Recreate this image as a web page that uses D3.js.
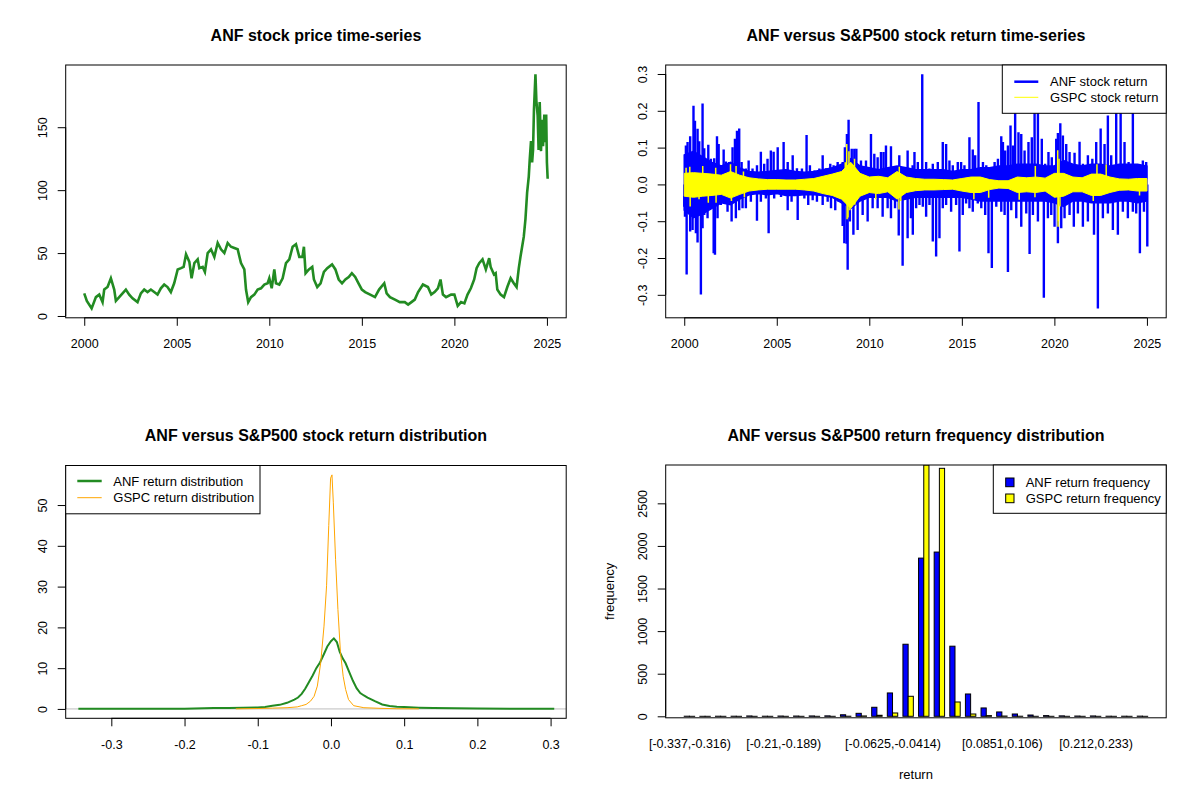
<!DOCTYPE html>
<html>
<head>
<meta charset="utf-8">
<script src="https://cdn.jsdelivr.net/npm/d3@7"></script>
<style>
  body { margin: 0; background: #fff; }
  text { font-family: "Liberation Sans", Arial, sans-serif; fill: #000; }
</style>
</head>
<body>
<script>
// ---- data ----
var priceYears = [2000.0,2000.14,2000.4,2000.63,2000.81,2000.99,2001.08,2001.26,2001.44,2001.62,2001.71,2001.89,2002.07,2002.25,2002.43,2002.61,2002.88,2003.06,2003.24,2003.42,2003.6,2003.78,2003.96,2004.14,2004.32,2004.5,2004.68,2004.86,2005.05,2005.23,2005.37,2005.5,2005.68,2005.8,2005.95,2006.13,2006.22,2006.4,2006.52,2006.67,2006.85,2007.03,2007.21,2007.39,2007.57,2007.75,2007.93,2008.11,2008.29,2008.47,2008.65,2008.74,2008.86,2009.01,2009.19,2009.37,2009.55,2009.73,2009.91,2010.0,2010.13,2010.27,2010.36,2010.54,2010.72,2010.9,2011.08,2011.26,2011.44,2011.62,2011.79,2011.87,2011.96,2012.14,2012.32,2012.41,2012.59,2012.77,2012.95,2013.13,2013.39,2013.57,2013.75,2013.93,2014.11,2014.29,2014.46,2014.64,2014.82,2015.0,2015.18,2015.45,2015.71,2015.93,2016.21,2016.34,2016.52,2016.79,2017.05,2017.32,2017.5,2017.68,2017.86,2018.04,2018.3,2018.57,2018.75,2018.93,2019.11,2019.25,2019.38,2019.55,2019.82,2020.0,2020.18,2020.36,2020.54,2020.71,2020.89,2021.07,2021.2,2021.34,2021.52,2021.7,2021.88,2021.96,2022.14,2022.23,2022.32,2022.5,2022.68,2022.86,2023.04,2023.21,2023.36,2023.48,2023.57,2023.66,2023.75,2023.84,2023.93,2024.02,2024.07,2024.14,2024.2,2024.25,2024.3,2024.38,2024.43,2024.5,2024.55,2024.61,2024.68,2024.73,2024.79,2024.86,2024.91,2024.96,2025.0,2025.04];
var prices = [18,12,6,15,17,11,21,23,30,21,12,15,18,21,17,14,11,18,21,19,21,19,17,22,25,23,19,26,37,38,39,49,43,30,42,45,38,39,35,50,53,47,58,53,50,58,55,54,53,42,37,21,11,15,17,21,22,25,26,30,22,37,26,25,30,42,45,55,57,47,47,55,34,37,39,29,23,26,35,38,41,37,29,26,29,31,34,31,26,21,19,17,15,21,26,18,15,13,11,11,9,11,13,19,25,23,17,19,22,29,17,15,17,17,8,11,10,17,22,29,38,42,45,37,46,39,33,34,21,17,15,23,30,26,23,38,47,55,63,77,98,111,124,139,122,132,164,192,171,159,132,170,131,156,135,160,138,160,122,109];

// half-yearly dense core of the daily return bands
var bandYears = [2000,2000.5,2001,2001.5,2002,2002.5,2003,2003.5,2004,2004.5,2005,2005.5,2006,2006.5,2007,2007.5,2008,2008.5,2009,2009.5,2010,2010.5,2011,2011.5,2012,2012.5,2013,2013.5,2014,2014.5,2015,2015.5,2016,2016.5,2017,2017.5,2018,2018.5,2019,2019.5,2020,2020.5,2021,2021.5,2022,2022.5,2023,2023.5,2024,2024.5,2025];
var anfBandHi = [0.080,0.090,0.075,0.060,0.050,0.060,0.045,0.035,0.033,0.035,0.038,0.040,0.035,0.033,0.035,0.040,0.045,0.055,0.070,0.050,0.045,0.040,0.045,0.050,0.045,0.040,0.040,0.040,0.040,0.035,0.040,0.040,0.045,0.045,0.050,0.050,0.055,0.055,0.055,0.050,0.050,0.065,0.055,0.050,0.055,0.055,0.050,0.055,0.055,0.055,0.050];
var anfBandLo = [-0.070,-0.090,-0.080,-0.065,-0.050,-0.055,-0.040,-0.028,-0.025,-0.028,-0.025,-0.030,-0.030,-0.028,-0.028,-0.030,-0.035,-0.050,-0.065,-0.045,-0.035,-0.035,-0.035,-0.045,-0.040,-0.035,-0.035,-0.035,-0.035,-0.035,-0.035,-0.040,-0.045,-0.045,-0.045,-0.045,-0.045,-0.045,-0.045,-0.045,-0.050,-0.060,-0.045,-0.045,-0.050,-0.050,-0.050,-0.045,-0.045,-0.050,-0.045];
var gspcBandHi = [0.030,0.032,0.030,0.028,0.025,0.035,0.025,0.018,0.015,0.013,0.013,0.012,0.012,0.014,0.016,0.022,0.028,0.035,0.060,0.030,0.020,0.022,0.018,0.035,0.020,0.016,0.014,0.014,0.013,0.012,0.016,0.020,0.020,0.013,0.010,0.010,0.020,0.018,0.020,0.017,0.030,0.030,0.020,0.018,0.028,0.028,0.020,0.015,0.014,0.016,0.016];
var gspcBandLo = [-0.032,-0.035,-0.032,-0.030,-0.027,-0.037,-0.027,-0.018,-0.015,-0.013,-0.013,-0.013,-0.013,-0.015,-0.018,-0.025,-0.030,-0.040,-0.065,-0.032,-0.022,-0.025,-0.020,-0.040,-0.022,-0.017,-0.015,-0.015,-0.014,-0.013,-0.018,-0.022,-0.022,-0.014,-0.010,-0.011,-0.022,-0.020,-0.022,-0.018,-0.035,-0.032,-0.020,-0.020,-0.030,-0.030,-0.022,-0.016,-0.015,-0.018,-0.018];

// single-day return spikes [year, return]
var anfSpikes = [
  [2000.09,.106],[2000.18,.115],[2000.32,.131],[2000.5,.214],[2000.58,.173],[2000.72,.151],[2000.81,.117],[2000.99,.22],[2001.08,.098],[2001.3,.108],[2001.44,.07],[2001.62,.071],[2001.77,.131],[2001.86,.11],[2002.13,.095],[2002.25,.062],[2002.43,.061],[2002.61,.101],[2002.74,.124],[2002.85,.146],[2002.97,.152],[2003.1,.061],[2003.33,.043],[2003.48,.065],[2003.69,.043],[2003.93,.052],[2004.14,.089],[2004.32,.056],[2004.5,.07],[2004.68,.092],[2004.83,.089],[2005.05,.101],[2005.37,.115],[2005.59,.061],[2005.86,.079],[2006.09,.044],[2006.36,.043],[2006.61,.134],[2006.79,.052],[2007.03,.038],[2007.3,.043],[2007.48,.079],[2007.66,.044],[2007.89,.056],[2008.07,.052],[2008.29,.061],[2008.56,.061],[2008.68,.101],[2008.79,.137],[2008.88,.176],[2009.05,.097],[2009.19,.097],[2009.3,.097],[2009.55,.065],[2009.82,.065],[2010.09,.137],[2010.27,.083],[2010.45,.074],[2010.63,.088],[2010.77,.088],[2010.9,.106],[2011.17,.104],[2011.62,.079],[2012.07,.092],[2012.34,.052],
  [2000.0,-.061],[2000.04,-.088],[2000.13,-.245],[2000.32,-.128],[2000.45,-.124],[2000.63,-.133],[2000.72,-.158],[2000.9,-.299],[2000.99,-.119],[2001.08,-.083],[2001.26,-.092],[2001.59,-.187],[2001.66,-.191],[2001.8,-.092],[2001.98,-.056],[2002.16,-.047],[2002.34,-.074],[2002.56,-.101],[2002.79,-.092],[2002.97,-.07],[2003.15,-.065],[2003.33,-.065],[2003.6,-.047],[2003.93,-.099],[2004.14,-.047],[2004.41,-.038],[2004.56,-.133],[2004.86,-.038],[2005.23,-.034],[2005.59,-.07],[2005.8,-.047],[2006.13,-.097],[2006.49,-.038],[2006.7,-.056],[2006.94,-.043],[2007.17,-.047],[2007.48,-.056],[2007.75,-.047],[2007.93,-.065],[2008.16,-.07],[2008.34,-.047],[2008.56,-.113],[2008.65,-.16],[2008.77,-.161],[2008.83,-.232],[2008.95,-.101],[2009.14,-.137],[2009.37,-.124],[2009.64,-.083],[2009.91,-.101],[2010.18,-.065],[2010.45,-.065],[2010.72,-.088],[2010.99,-.065],[2011.17,-.092],[2011.39,-.065],[2011.59,-.139],[2011.8,-.221],[2012.07,-.146],[2012.25,-.092],
  [2012.44,.088],[2012.62,.061],[2012.86,.299],[2013.07,.061],[2013.25,.043],[2013.43,.056],[2013.7,.061],[2013.97,.115],[2014.15,.11],[2014.33,.065],[2014.51,.052],[2014.78,.061],[2014.96,.061],[2015.14,.052],[2015.41,.128],[2015.59,.095],[2015.72,.079],[2015.9,.224],[2016.14,.061],[2016.32,.052],[2016.55,.047],[2016.77,.061],[2016.95,.07],[2017.13,.131],[2017.22,.115],[2017.34,.092],[2017.49,.106],[2017.63,.16],[2017.76,.106],[2017.88,.25],[2018.06,.142],[2018.21,.137],[2018.39,.092],[2018.6,.115],[2018.78,.128],[2018.93,.2],[2019.11,.24],[2019.32,.124],[2019.5,.056],[2019.68,.088],[2019.86,.074],[2020.1,.124],[2020.19,.14],[2020.32,.166],[2020.46,.133],[2020.64,.11],[2020.82,.088],[2021.09,.086],[2021.36,.116],[2021.54,.056],[2021.81,.079],[2022.05,.07],[2022.26,.115],[2022.5,.152],[2022.71,.11],[2022.89,.187],[2023.07,.079],[2023.34,.23],[2023.58,.2],[2023.79,.115],[2024.01,.061],[2024.24,.22],[2024.51,.052],[2024.78,.065],[2024.96,.061],
  [2012.35,-.137],[2012.53,-.065],[2012.71,-.056],[2012.89,-.061],[2013.07,-.088],[2013.25,-.056],[2013.43,-.155],[2013.61,-.196],[2013.79,-.146],[2013.97,-.065],[2014.15,-.056],[2014.42,-.074],[2014.69,-.056],[2014.87,-.182],[2015.05,-.083],[2015.23,-.052],[2015.41,-.065],[2015.59,-.074],[2015.86,-.052],[2016.05,-.065],[2016.26,-.083],[2016.44,-.187],[2016.62,-.227],[2016.86,-.061],[2017.13,-.074],[2017.31,-.083],[2017.49,-.238],[2017.67,-.07],[2017.94,-.092],[2018.21,-.115],[2018.48,-.079],[2018.66,-.189],[2018.84,-.083],[2019.11,-.101],[2019.43,-.308],[2019.65,-.092],[2019.83,-.083],[2020.01,-.115],[2020.19,-.16],[2020.37,-.119],[2020.55,-.092],[2020.82,-.083],[2021.05,-.115],[2021.27,-.079],[2021.54,-.115],[2021.81,-.101],[2022.14,-.137],[2022.35,-.337],[2022.62,-.092],[2022.89,-.079],[2023.16,-.124],[2023.43,-.137],[2023.7,-.074],[2023.97,-.092],[2024.24,-.074],[2024.42,-.079],[2024.62,-.187],[2024.84,-.074],[2025.02,-.169]
];
var gspcSpikes = [[2000.1,.045],[2000.3,.048],[2000.32,-.06],[2000.8,-.04],[2001.0,.05],[2001.3,-.05],[2001.7,.045],[2001.72,-.05],[2002.5,.055],[2002.55,-.045],[2002.8,.05],[2003.2,.035],[2003.25,-.035],[2008.7,.06],[2008.78,.11],[2008.8,-.095],[2008.85,-.09],[2008.9,.09],[2008.95,-.07],[2009.2,.07],[2009.22,-.055],[2010.35,-.04],[2011.6,-.068],[2011.62,.048],[2011.7,-.045],[2015.65,-.04],[2016.45,-.036],[2018.1,-.042],[2018.95,-.035],[2018.97,.05],[2020.18,.093],[2020.2,-.115],[2020.22,-.1],[2020.25,.07],[2020.3,-.06],[2022.1,-.045],[2022.3,.055],[2022.8,.054],[2024.6,-.03]];

var anfDensX = [-0.345,-0.30,-0.25,-0.20,-0.16,-0.14,-0.12,-0.10,-0.09,-0.08,-0.07,-0.06,-0.05,-0.045,-0.04,-0.035,-0.03,-0.025,-0.02,-0.015,-0.01,-0.005,0,0.004,0.008,0.012,0.016,0.02,0.025,0.03,0.035,0.04,0.045,0.05,0.06,0.07,0.08,0.09,0.10,0.12,0.14,0.17,0.20,0.25,0.305];
var anfDensY = [0.02,0.03,0.04,0.06,0.25,0.25,0.3,0.35,0.5,0.8,1.0,1.5,2.3,2.8,3.7,5.0,6.6,8.2,10.0,11.4,13.3,15.3,16.6,17.3,16.4,14.0,12.4,11.2,9.0,6.9,5.1,3.9,3.3,2.8,1.9,1.1,0.7,0.55,0.45,0.3,0.2,0.15,0.08,0.05,0.02];
var gspcDensX = [-0.13,-0.10,-0.08,-0.06,-0.046,-0.04,-0.034,-0.028,-0.023,-0.0186,-0.014,-0.0095,-0.006,-0.003,-0.0005,0.0014,0.0032,0.0063,0.0095,0.013,0.0167,0.02,0.024,0.031,0.045,0.067,0.09,0.12];
var gspcDensY = [0.02,0.1,0.2,0.3,0.5,0.8,1.1,1.9,3.1,5.6,11.3,20.3,30.2,45,56.6,57.4,50.7,36.7,24.4,13.8,8.0,4.8,2.3,0.8,0.3,0.15,0.05,0.02];
var returnRange = [-0.337, 0.296];

var binLabels = ["[-0.337,-0.316)","[-0.316,-0.294)","[-0.294,-0.273)","[-0.273,-0.252)","[-0.252,-0.231)","[-0.231,-0.21)","[-0.21,-0.189)","[-0.189,-0.168)","[-0.168,-0.147)","[-0.147,-0.126)","[-0.126,-0.105)","[-0.105,-0.0836)","[-0.0836,-0.0625)","[-0.0625,-0.0414)","[-0.0414,-0.0203)","[-0.0203,0.000801)","[0.000801,0.0219)","[0.0219,0.043)","[0.043,0.064)","[0.064,0.0851)","[0.0851,0.106)","[0.106,0.127)","[0.127,0.148)","[0.148,0.169)","[0.169,0.19)","[0.19,0.212)","[0.212,0.233)","[0.233,0.254)","[0.254,0.275)","[0.275,0.296]"];
var shownBinLabels = [0, 6, 13, 20, 26];
var anfFreq = [1,0,1,1,4,1,3,3,4,5,18,35,106,274,846,1857,1928,823,262,98,51,27,15,8,5,3,4,1,1,2];
var gspcFreq = [0,0,0,0,0,0,0,0,0,0,1,4,12,39,235,2950,2911,168,27,8,3,1,0,0,0,0,0,0,0,0];

var yearTicks = [2000, 2005, 2010, 2015, 2020, 2025];

// ---- layout ----
var pw = 500.5, ph = 252.8;
var svg = d3.select("body").append("svg").attr("width", 1200).attr("height", 800);
svg.append("rect").attr("width", 1200).attr("height", 800).attr("fill", "#fff");

function pad4(e) { var r = e[1] - e[0]; return [e[0] - 0.04 * r, e[1] + 0.04 * r]; }
function fmt1(d) { return d.toFixed(1); }

function panel(id, x0, y0, title) {
  var g = svg.append("g").attr("transform", "translate(" + x0 + "," + y0 + ")");
  g.append("clipPath").attr("id", id).append("rect").attr("width", pw).attr("height", ph);
  var plot = g.append("g").attr("clip-path", "url(#" + id + ")");
  g.append("text").attr("x", pw / 2).attr("y", -24.5).attr("text-anchor", "middle")
    .attr("font-size", "16px").attr("font-weight", "bold").text(title);
  return { g: g, plot: plot };
}
function box(g) {
  g.append("rect").attr("width", pw).attr("height", ph).attr("fill", "none").attr("stroke", "#000");
}
function bottomAxis(g, scale, ticks, f) {
  var a = g.append("g").attr("transform", "translate(0," + ph + ")")
    .call(d3.axisBottom(scale).tickValues(ticks).tickFormat(f).tickSize(8).tickSizeOuter(0));
  a.attr("font-size", "12.5px").attr("font-family", null);
  a.select(".domain").attr("d", "M" + scale(ticks[0]) + ",0H" + scale(ticks[ticks.length - 1]));
  a.selectAll(".tick text").attr("y", 30.3).attr("dy", null);
}
function leftAxis(g, scale, ticks, f) {
  var a = g.append("g")
    .call(d3.axisLeft(scale).tickValues(ticks).tickFormat(f).tickSize(8).tickSizeOuter(0));
  a.attr("font-size", "12.5px").attr("font-family", null);
  a.select(".domain").attr("d", "M0," + scale(ticks[0]) + "V" + scale(ticks[ticks.length - 1]));
  a.selectAll(".tick text").attr("x", 0).attr("y", -19).attr("dy", null)
    .attr("text-anchor", "middle").attr("transform", "rotate(-90)");
}
function legendBox(g, x, w) {
  g.append("rect").attr("x", x).attr("y", 0).attr("width", w).attr("height", 48.3)
    .attr("fill", "#fff").attr("stroke", "#000");
}
function legendText(g, x, y, s) {
  g.append("text").attr("x", x).attr("y", y + 4.6).attr("font-size", "13px").text(s);
}

// ---- top-left: price ----
var p1 = panel("c1", 65.7, 65, "ANF stock price time-series");
var xTime = d3.scaleLinear().domain(pad4(d3.extent(priceYears))).range([0, pw]);
var yPrice = d3.scaleLinear().domain(pad4(d3.extent(prices))).range([ph, 0]);
p1.plot.append("path")
  .datum(priceYears.map(function (t, i) { return [t, prices[i]]; }))
  .attr("fill", "none").attr("stroke", "#228B22").attr("stroke-width", 2.6)
  .attr("stroke-linejoin", "miter")
  .attr("d", d3.line().x(function (d) { return xTime(d[0]); }).y(function (d) { return yPrice(d[1]); }));
box(p1.g);
bottomAxis(p1.g, xTime, yearTicks, d3.format("d"));
leftAxis(p1.g, yPrice, [0, 50, 100, 150], d3.format("d"));

// ---- top-right: returns ----
var p2 = panel("c2", 665.7, 65, "ANF versus S&P500 stock return time-series");
var yRet = d3.scaleLinear().domain(pad4(d3.extent(anfSpikes, function (d) { return d[1]; }))).range([ph, 0]);
function band(hi, lo) {
  return bandYears.map(function (t, i) { return { t: t, hi: hi[i], lo: lo[i] }; });
}
var bandArea = d3.area().x(function (d) { return xTime(d.t); })
  .y0(function (d) { return yRet(d.lo); }).y1(function (d) { return yRet(d.hi); });
function spikes(g, data, color, w) {
  g.selectAll(null).data(data).enter().append("line")
    .attr("x1", function (d) { return xTime(d[0]); }).attr("x2", function (d) { return xTime(d[0]); })
    .attr("y1", yRet(0)).attr("y2", function (d) { return yRet(d[1]); })
    .attr("stroke", color).attr("stroke-width", w);
}
p2.plot.append("path").datum(band(anfBandHi, anfBandLo)).attr("fill", "#0000FF")
  .attr("stroke", "#0000FF").attr("stroke-width", 1.5).attr("d", bandArea);
spikes(p2.plot, anfSpikes, "#0000FF", 2.4);
p2.plot.append("path").datum(band(gspcBandHi, gspcBandLo)).attr("fill", "#FFFF00")
  .attr("stroke", "#FFFF00").attr("stroke-width", 1).attr("d", bandArea);
spikes(p2.plot, gspcSpikes, "#FFFF00", 1.5);
box(p2.g);
bottomAxis(p2.g, xTime, yearTicks, d3.format("d"));
leftAxis(p2.g, yRet, [-0.3, -0.2, -0.1, 0, 0.1, 0.2, 0.3], fmt1);
legendBox(p2.g, 336.6, pw - 336.6);
p2.g.append("line").attr("x1", 348.6).attr("x2", 372.6).attr("y1", 16.7).attr("y2", 16.7)
  .attr("stroke", "#0000FF").attr("stroke-width", 2.5);
p2.g.append("line").attr("x1", 348.6).attr("x2", 372.6).attr("y1", 32.3).attr("y2", 32.3)
  .attr("stroke", "#FFFF00").attr("stroke-width", 1);
legendText(p2.g, 384.3, 16.7, "ANF stock return");
legendText(p2.g, 384.3, 32.3, "GSPC stock return");

// ---- bottom-left: density ----
var p3 = panel("c3", 65.7, 465.5, "ANF versus S&P500 stock return distribution");
var xDens = d3.scaleLinear().domain(pad4(returnRange)).range([0, pw]);
var yDens = d3.scaleLinear().domain(pad4([0, d3.max(gspcDensY)])).range([ph, 0]);
var densLine = d3.line().x(function (d) { return xDens(d[0]); }).y(function (d) { return yDens(d[1]); });
p3.plot.append("line").attr("x1", 0).attr("x2", pw).attr("y1", yDens(0)).attr("y2", yDens(0))
  .attr("stroke", "#BEBEBE").attr("stroke-width", 1);
p3.plot.append("path").datum(anfDensX.map(function (x, i) { return [x, anfDensY[i]]; }))
  .attr("fill", "none").attr("stroke", "#228B22").attr("stroke-width", 2).attr("d", densLine);
p3.plot.append("path").datum(gspcDensX.map(function (x, i) { return [x, gspcDensY[i]]; }))
  .attr("fill", "none").attr("stroke", "#FFA500").attr("stroke-width", 1).attr("d", densLine);
box(p3.g);
bottomAxis(p3.g, xDens, [-0.3, -0.2, -0.1, 0, 0.1, 0.2, 0.3], fmt1);
leftAxis(p3.g, yDens, [0, 10, 20, 30, 40, 50], d3.format("d"));
legendBox(p3.g, 0, 194.3);
p3.g.append("line").attr("x1", 11.6).attr("x2", 36).attr("y1", 15.5).attr("y2", 15.5)
  .attr("stroke", "#228B22").attr("stroke-width", 2.5);
p3.g.append("line").attr("x1", 11.6).attr("x2", 36).attr("y1", 32.2).attr("y2", 32.2)
  .attr("stroke", "#FFA500").attr("stroke-width", 1);
legendText(p3.g, 47.6, 15.5, "ANF return distribution");
legendText(p3.g, 47.6, 32.2, "GSPC return distribution");

// ---- bottom-right: histogram ----
var p4 = panel("c4", 665.7, 465, "ANF versus S&P500 return frequency distribution");
var nBins = binLabels.length;
var xBar = d3.scaleLinear().domain(pad4([1, 3 * nBins])).range([0, pw]);
var yBar = d3.scaleLinear().domain([0, d3.max(anfFreq.concat(gspcFreq))]).range([ph - 1.5, 0]);
function bars(data, offset, color) {
  p4.plot.selectAll(null).data(data).enter().append("rect")
    .attr("x", function (d, i) { return xBar(3 * i + offset); })
    .attr("width", xBar(1) - xBar(0))
    .attr("y", function (d) { return yBar(d); })
    .attr("height", function (d) { return Math.max(yBar(0) - yBar(d), 0.01); })
    .attr("fill", color).attr("stroke", "#000").attr("stroke-width", 1);
}
bars(anfFreq, 1, "#0000FF");
bars(gspcFreq, 2, "#FFFF00");
box(p4.g);
leftAxis(p4.g, yBar, [0, 500, 1000, 1500, 2000, 2500], d3.format("d"));
var nameAxis = p4.g.append("g").attr("transform", "translate(0," + ph + ")")
  .call(d3.axisBottom(xBar).tickValues(shownBinLabels.map(function (k) { return 3 * k + 2; }))
    .tickFormat(function (v) { return binLabels[(v - 2) / 3]; }).tickSize(0));
nameAxis.attr("font-size", "12.5px").attr("font-family", null);
nameAxis.select(".domain").remove();
nameAxis.selectAll(".tick text").attr("y", 30.3).attr("dy", null);
p4.g.append("text").attr("x", pw / 2).attr("y", 314).attr("text-anchor", "middle")
  .attr("font-size", "13px").text("return");
p4.g.append("text").attr("transform", "translate(-52.2," + (ph / 2) + ") rotate(-90)")
  .attr("text-anchor", "middle").attr("font-size", "13px").text("frequency");
legendBox(p4.g, 327.6, pw - 327.6);
p4.g.append("rect").attr("x", 340).attr("y", 13).attr("width", 8.3).attr("height", 8.7)
  .attr("fill", "#0000FF").attr("stroke", "#000");
p4.g.append("rect").attr("x", 340).attr("y", 29).attr("width", 8.3).attr("height", 8.7)
  .attr("fill", "#FFFF00").attr("stroke", "#000");
legendText(p4.g, 360, 17.4, "ANF return frequency");
legendText(p4.g, 360, 33.4, "GSPC return frequency");
</script>
</body>
</html>
